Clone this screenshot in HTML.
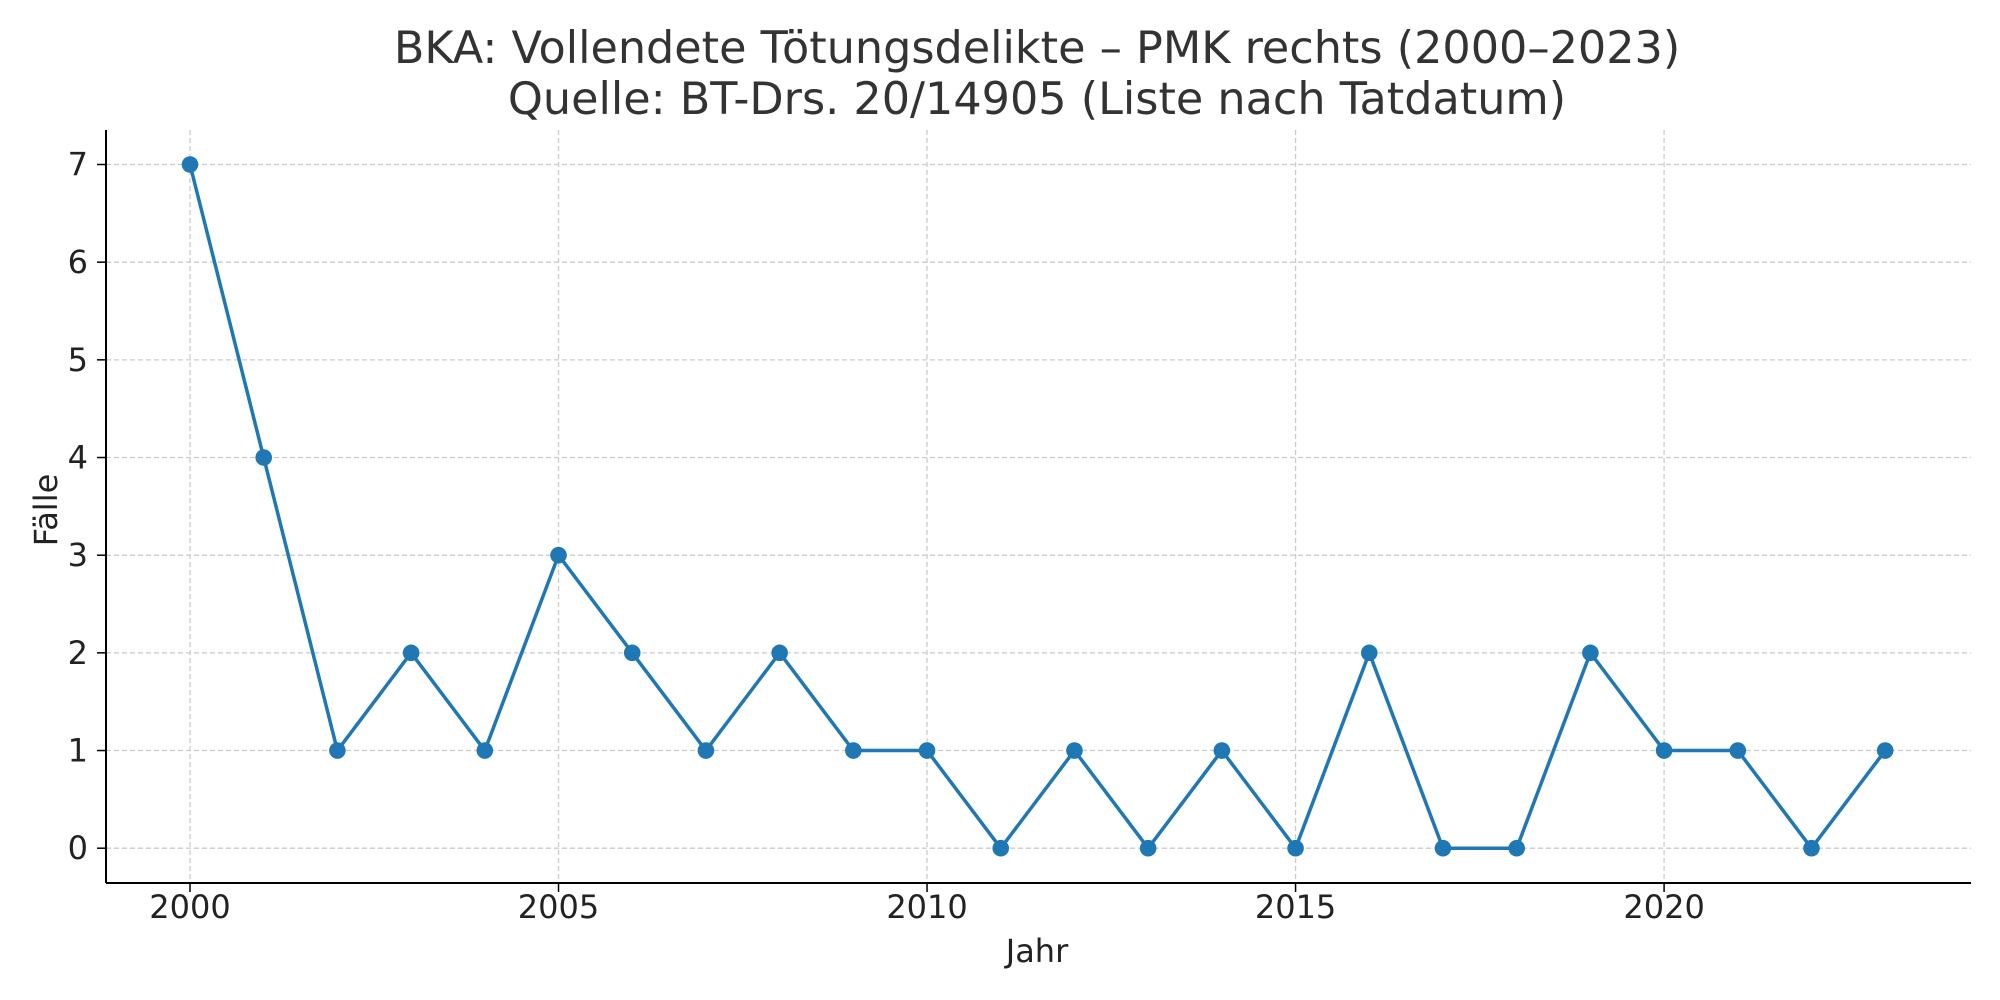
<!DOCTYPE html>
<html><head><meta charset="utf-8"><style>
html,body{margin:0;padding:0;background:#fff}
svg{display:block;font-family:"DejaVu Sans","Liberation Sans",sans-serif}
</style></head><body>
<svg id="chart" width="2000" height="1000" viewBox="0 0 2000 1000">
<rect width="2000" height="1000" fill="#fff"/>
<text x="1037" y="63" font-size="44.5" text-anchor="middle" fill="#333">BKA: Vollendete Tötungsdelikte – PMK rechts (2000–2023)</text>
<text x="1037" y="114" font-size="44.5" text-anchor="middle" fill="#333">Quelle: BT-Drs. 20/14905 (Liste nach Tatdatum)</text>
<g id="grid"></g>
<g id="ticks"></g>
<line x1="106" y1="130" x2="106" y2="883" stroke="#000" stroke-width="2"/>
<line x1="106" y1="883" x2="1971" y2="883" stroke="#000" stroke-width="2"/>
<g id="marks"></g>
<text x="1037" y="962" font-size="32" text-anchor="middle" fill="#222">Jahr</text>
<text x="0" y="0" font-size="32" text-anchor="middle" fill="#222" transform="translate(57,510) rotate(-90)">Fälle</text>
</svg>
<script>
const years=[2000,2001,2002,2003,2004,2005,2006,2007,2008,2009,2010,2011,2012,2013,2014,2015,2016,2017,2018,2019,2020,2021,2022,2023];
const cases=[7,4,1,2,1,3,2,1,2,1,1,0,1,0,1,0,2,0,0,2,1,1,0,1];
const xTicks=[2000,2005,2010,2015,2020];
const yTicks=[0,1,2,3,4,5,6,7];
const NS="http://www.w3.org/2000/svg";
const xs=y=>190+(y-2000)*(1885.2-190)/23;
const ys=v=>848.2-v*(848.2-164.5)/7;
function mk(t,a,p){const e=document.createElementNS(NS,t);for(const k in a)e.setAttribute(k,a[k]);p.appendChild(e);return e;}
const grid=document.getElementById('grid'),ticks=document.getElementById('ticks'),marks=document.getElementById('marks');
xTicks.forEach(t=>{const x=xs(t);
const g=mk('line',{x1:x,y1:130,x2:x,y2:883,stroke:'#ccc','stroke-width':1.3,'stroke-dasharray':'5,3'},grid);


mk('line',{x1:x,y1:883,x2:x,y2:892,stroke:'#000','stroke-width':1.5},ticks);
const l=mk('text',{x:x,y:918,'font-size':32,'text-anchor':'middle',fill:'#222'},ticks);l.textContent=t;

});
yTicks.forEach(t=>{const y=ys(t);
const g=mk('line',{x1:106,y1:y,x2:1971,y2:y,stroke:'#ccc','stroke-width':1.3,'stroke-dasharray':'5,3'},grid);


mk('line',{x1:97,y1:y,x2:106,y2:y,stroke:'#000','stroke-width':1.5},ticks);
const l=mk('text',{x:88,y:y+11,'font-size':32,'text-anchor':'end',fill:'#222'},ticks);l.textContent=t;

});
const pl=mk('polyline',{points:years.map((y,i)=>xs(y)+','+ys(cases[i])).join(' '),fill:'none',stroke:'#1f77b4','stroke-width':3.5,'stroke-linejoin':'round'},marks);


years.forEach((y,i)=>{const c=mk('circle',{cx:xs(y),cy:ys(cases[i]),r:8.3,fill:'#1f77b4'},marks);

});
</script>
</body></html>
